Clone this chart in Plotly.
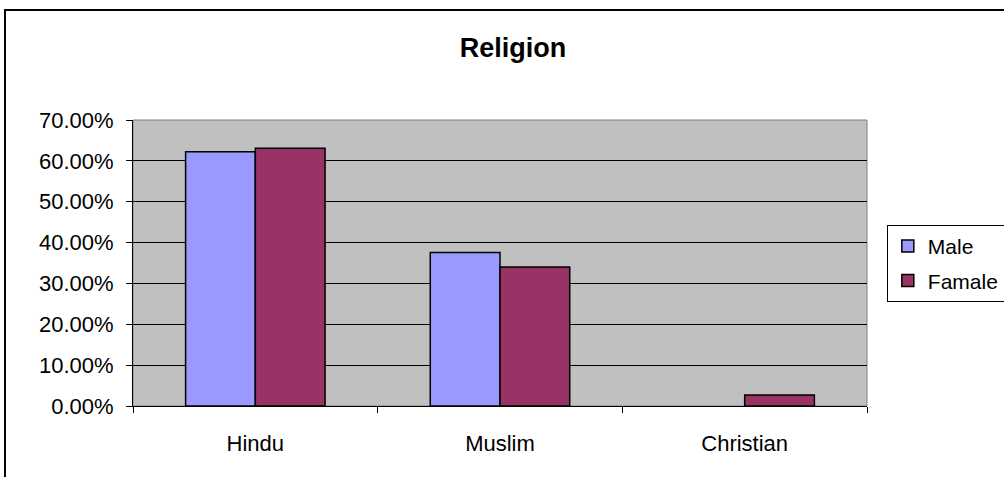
import plotly.graph_objects as go

categories = ["Hindu", "Muslim", "Christian"]
male = [0.622, 0.376, 0.0]
female = [0.631, 0.340, 0.027]
series_names = ["Male", "Famale"]
colors = ["#9999FF", "#993366"]

fig = go.Figure()
for i, (name, vals, col) in enumerate(zip(series_names, [male, female], colors)):
    fig.add_trace(go.Bar(
        x=categories, y=vals, name=name, legendgroup=name,
        marker=dict(color=col, line=dict(color="black",
                                         width=[1.5 if v > 0 else 0 for v in vals])),
    ))

font = "Liberation Sans, Arial, sans-serif"
fig.update_layout(
    width=1004, height=477,
    margin=dict(l=133, r=137, t=120, b=71, autoexpand=False),
    paper_bgcolor="white", plot_bgcolor="#C0C0C0",
    bargap=0.43, bargroupgap=0,
    title=dict(text="<b>Religion</b>", x=0.511, xanchor="center", y=0.901, yanchor="middle",
               font=dict(family=font, size=27, color="black")),
    font=dict(family=font, size=22, color="black"),
    showlegend=True,
    legend=dict(x=1.027, y=0.633, xanchor="left", yanchor="top",
                bordercolor="black", borderwidth=1, bgcolor="white",
                traceorder="grouped", tracegroupgap=4, itemwidth=30,
                font=dict(family=font, size=21, color="black")),
    xaxis=dict(showline=True, linecolor="black", linewidth=1,
               ticks="outside", tickson="boundaries", ticklen=6, tickcolor="black",
               showgrid=False, tickfont=dict(size=22), ticklabelstandoff=18),
    yaxis=dict(range=[0, 0.7], dtick=0.1, tickformat=".2%",
               showline=True, linecolor="black", linewidth=1,
               ticks="outside", ticklen=6, tickcolor="black",
               showgrid=True, gridcolor="black", gridwidth=1,
               zeroline=False, tickfont=dict(size=22), ticklabelstandoff=8),
)
# plot area border (gray)
fig.add_shape(type="rect", xref="paper", yref="paper", x0=0, x1=1, y0=0, y1=1,
              line=dict(color="#808080", width=1), layer="below")
# outer chart border
fig.add_shape(type="rect", xref="paper", yref="paper", x0=-0.1744, x1=1.5, y0=-0.5, y1=1.3846,
              line=dict(color="black", width=2))

fig.write_html("out.html")
